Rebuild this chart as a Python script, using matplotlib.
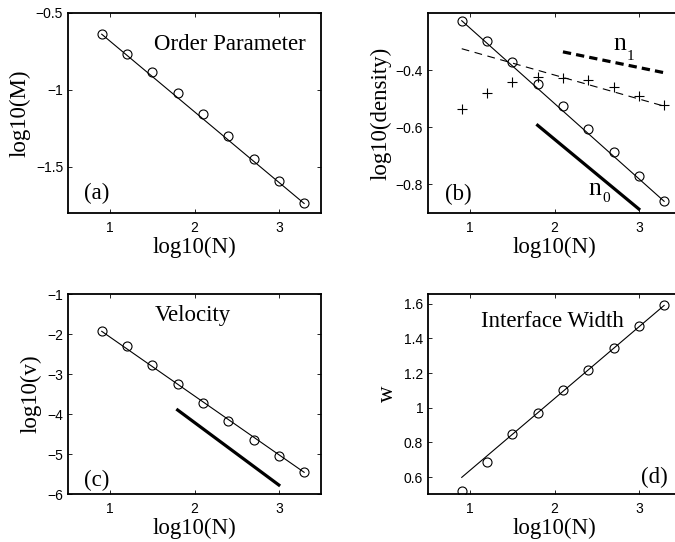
import numpy as np
import matplotlib
matplotlib.use("Agg")
import matplotlib.pyplot as plt

# system sizes, log10(N)
logN = [0.9, 1.2, 1.5, 1.8, 2.1, 2.4, 2.7, 3.0, 3.3]

# (a) order parameter
logM = [-0.638, -0.768, -0.885, -1.017, -1.158, -1.300, -1.446, -1.595, -1.738]

# (b) densities
dens_n0 = [-0.227, -0.299, -0.372, -0.447, -0.526, -0.605, -0.686, -0.772, -0.859]
dens_n1 = [-0.537, -0.480, -0.442, -0.424, -0.429, -0.436, -0.458, -0.489, -0.523]
fit_n1_x = [0.9, 3.3]
fit_n1_y = [-0.325, -0.526]
ref_n1_x = [2.1, 3.3]
ref_n1_y = [-0.336, -0.409]
ref_n0_x = [1.8, 3.0]
ref_n0_y = [-0.593, -0.886]

# (c) velocity
logv = [-1.933, -2.308, -2.767, -3.258, -3.717, -4.167, -4.658, -5.050, -5.458]
ref_v_x = [1.8, 3.0]
ref_v_y = [-3.90, -5.775]

# (d) interface width
width = [0.519, 0.688, 0.850, 0.971, 1.100, 1.219, 1.342, 1.473, 1.594]
fit_w_x = [0.9, 3.3]
fit_w_y = [0.598, 1.59]

serif = "Liberation Serif"
sans = "Liberation Sans"
lab_fs = 16.5
tick_fs = 10

fig = plt.figure(figsize=(6.75, 5.42), dpi=100)
W, H = 675.0, 542.0
def make_ax(left, top):
    ax = fig.add_axes([left / W, (H - top - 200) / H, 253 / W, 200 / H])
    ax.set_xlim(0.5, 3.5)
    ax.set_xticks([1, 2, 3])
    ax.tick_params(direction="in", top=True, right=True, length=3, width=0.6,
                   labelsize=tick_fs)
    ax.tick_params(axis="x", pad=6)
    ax.tick_params(axis="y", pad=3.5)
    for lab in ax.get_xticklabels() + ax.get_yticklabels():
        lab.set_fontfamily(sans)
    for sp in ax.spines.values():
        sp.set_linewidth(1.3)
    ax.set_xlabel("log10(N)", fontfamily=serif, fontsize=lab_fs, labelpad=1)
    return ax

circ = dict(marker="o", ms=6.5, mfc="none", mec="k", mew=0.8, ls="none")

# (a)
ax = make_ax(68, 13)
ax.plot([logN[0], logN[-1]], [logM[0], logM[-1]], color="k", lw=0.8)
ax.plot(logN, logM, **circ)
ax.set_ylim(-1.8, -0.5)
ax.set_yticks([-1.5, -1, -0.5])
ax.set_yticklabels(["\u22121.5", "\u22121", "\u22120.5"], fontfamily=sans)
ax.set_ylabel("log10(M)", fontfamily=serif, fontsize=lab_fs, labelpad=4)
ax.text(2.42, -0.707, "Order Parameter", fontfamily=serif, fontsize=lab_fs,
        ha="center", va="center")
ax.text(0.84, -1.674, "(a)", fontfamily=serif, fontsize=lab_fs,
        ha="center", va="center")

# (b)
ax = make_ax(428, 13)
ax.plot([logN[0], logN[-1]], [dens_n0[0], dens_n0[-1]], color="k", lw=0.8)
ax.plot(logN, dens_n0, **circ)
ax.plot(fit_n1_x, fit_n1_y, color="k", lw=0.8, ls=(0, (7, 5)))
ax.plot(logN, dens_n1, marker="+", ms=7, mew=0.8, color="k", ls="none")
ax.plot(ref_n1_x, ref_n1_y, color="k", lw=2.3, ls=(0, (2.6, 1.6)))
ax.plot(ref_n0_x, ref_n0_y, color="k", lw=2.3)
ax.set_ylim(-0.9, -0.2)
ax.set_yticks([-0.8, -0.6, -0.4])
ax.set_yticklabels(["\u22120.8", "\u22120.6", "\u22120.4"], fontfamily=sans)
ax.set_ylabel("log10(density)", fontfamily=serif, fontsize=lab_fs, labelpad=3)
ax.text(2.77, -0.31, "n", fontfamily=serif, fontsize=lab_fs + 2,
        ha="center", va="center")
ax.text(2.9, -0.352, "1", fontfamily=serif, fontsize=11,
        ha="center", va="center")
ax.text(2.48, -0.815, "n", fontfamily=serif, fontsize=lab_fs + 2,
        ha="center", va="center")
ax.text(2.61, -0.85, "0", fontfamily=serif, fontsize=11,
        ha="center", va="center")
ax.text(0.86, -0.834, "(b)", fontfamily=serif, fontsize=lab_fs,
        ha="center", va="center")

# (c)
ax = make_ax(68, 294)
ax.plot([logN[0], logN[-1]], [logv[0], logv[-1]], color="k", lw=0.8)
ax.plot(logN, logv, **circ)
ax.plot(ref_v_x, ref_v_y, color="k", lw=2.3)
ax.set_ylim(-6, -1)
ax.set_yticks([-6, -5, -4, -3, -2, -1])
ax.set_yticklabels(["\u2212%d" % k for k in [6, 5, 4, 3, 2, 1]], fontfamily=sans)
ax.set_ylabel("log10(v)", fontfamily=serif, fontsize=lab_fs, labelpad=4)
ax.text(1.98, -1.525, "Velocity", fontfamily=serif, fontsize=lab_fs,
        ha="center", va="center")
ax.text(0.84, -5.65, "(c)", fontfamily=serif, fontsize=lab_fs,
        ha="center", va="center")

# (d)
ax = make_ax(428, 294)
ax.plot(fit_w_x, fit_w_y, color="k", lw=0.8)
ax.plot(logN, width, **circ)
ax.set_ylim(0.502, 1.656)
ax.set_yticks([0.6, 0.8, 1.0, 1.2, 1.4, 1.6])
ax.set_yticklabels(["0.6", "0.8", "1", "1.2", "1.4", "1.6"], fontfamily=sans)
ax.set_ylabel("w", fontfamily=serif, fontsize=lab_fs, labelpad=4)
ax.text(1.97, 1.496, "Interface Width", fontfamily=serif, fontsize=lab_fs,
        ha="center", va="center")
ax.text(3.18, 0.6, "(d)", fontfamily=serif, fontsize=lab_fs,
        ha="center", va="center")

fig.savefig("out.png", dpi=100)
